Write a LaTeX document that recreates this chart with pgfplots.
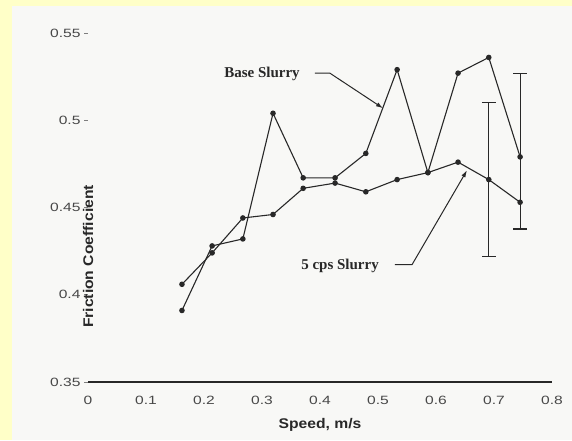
\documentclass[border=0pt]{standalone}
\usepackage{pgfplots}
\pgfplotsset{compat=1.18}
\usetikzlibrary{arrows.meta}
\usepackage{fontspec}
\setmainfont{Liberation Sans}
\newfontfamily\tickfont[FakeStretch=1.3]{Liberation Sans}
\newfontfamily\labfont[FakeStretch=1.12]{Liberation Sans}
\newfontfamily\annfont{Liberation Serif}
\definecolor{bgyellow}{RGB}{255,255,200}
\definecolor{paper}{RGB}{248,248,246}
\definecolor{ink}{RGB}{40,40,40}

\begin{document}
\begin{tikzpicture}[x=1pt,y=1pt]
\path[use as bounding box] (0,0) rectangle (572,-440);
\fill[bgyellow] (0,0) rectangle (572,-440);
\fill[paper] (12,-6) rectangle (572,-440);
\begin{axis}[
  at={(88pt,-382pt)}, anchor=south west,
  scale only axis, width=464pt, height=349pt,
  xmin=0, xmax=0.8, ymin=0.35, ymax=0.55,
  axis x line*=bottom, axis y line*=left,
  y axis line style={draw=none},
  x axis line style={ink, line width=1.2pt},
  xtick={0,0.1,0.2,0.3,0.4,0.5,0.6,0.7,0.8},
  ytick={0.35,0.4,0.45,0.5,0.55},
  xtick style={draw=none},
  ytick style={ink!60, line width=0.7pt},
  tick align=outside, major tick length=4pt,
  /pgf/number format/assume math mode=true,
  tick label style={font=\tickfont\fontsize{12}{14}\selectfont, text=ink!85},
  xticklabel style={yshift=-7pt},
  xlabel={Speed, m/s},
  ylabel={Friction Coefficient},
  label style={font=\labfont\bfseries\fontsize{14}{16}\selectfont, text=ink},
  xlabel style={at={(axis description cs:0.5,0)}, anchor=center, yshift=-43pt},
  ylabel style={at={(axis description cs:0,0.5)}, anchor=center, xshift=-49pt},
  clip=false,
]
% Base Slurry
\addplot[ink, line width=1.1pt, mark=*, mark size=2.2pt] coordinates {
 (0.162,0.391) (0.214,0.428) (0.267,0.432) (0.319,0.504) (0.371,0.467)
 (0.426,0.467) (0.479,0.481) (0.533,0.529) (0.586,0.470) (0.638,0.527)
 (0.691,0.536) (0.745,0.479)};
% 5 cps Slurry
\addplot[ink, line width=1.1pt, mark=*, mark size=2.2pt] coordinates {
 (0.162,0.406) (0.214,0.424) (0.267,0.444) (0.319,0.446) (0.371,0.461)
 (0.426,0.464) (0.479,0.459) (0.533,0.466) (0.586,0.470) (0.638,0.476)
 (0.691,0.466) (0.745,0.453)};
% error bars
\addplot[draw=none, mark=none,
  error bars/.cd, y dir=both, y explicit,
  error bar style={ink, line width=1.1pt},
  error mark options={rotate=90, mark size=7pt, ink, line width=1.1pt}]
  coordinates {(0.691,0.466) +- (0,0.044) (0.745,0.4787) += (0,0.048) -= (0,0.041)};
% annotations
\node[font=\annfont\bfseries\fontsize{15}{17}\selectfont, text=ink] at (axis cs:0.300,0.5264) {Base Slurry};
\draw[ink, line width=1pt, -{Latex[length=7pt,width=4.5pt]}] (axis cs:0.391,0.527) -- (axis cs:0.417,0.527) -- (axis cs:0.5086,0.5069);
\node[font=\annfont\bfseries\fontsize{15}{17}\selectfont, text=ink] at (axis cs:0.4345,0.4166) {5 cps Slurry};
\draw[ink, line width=1pt, -{Latex[length=7pt,width=4.5pt]}] (axis cs:0.529,0.4172) -- (axis cs:0.5586,0.4172) -- (axis cs:0.6534,0.4713);
\end{axis}
\end{tikzpicture}
\end{document}
